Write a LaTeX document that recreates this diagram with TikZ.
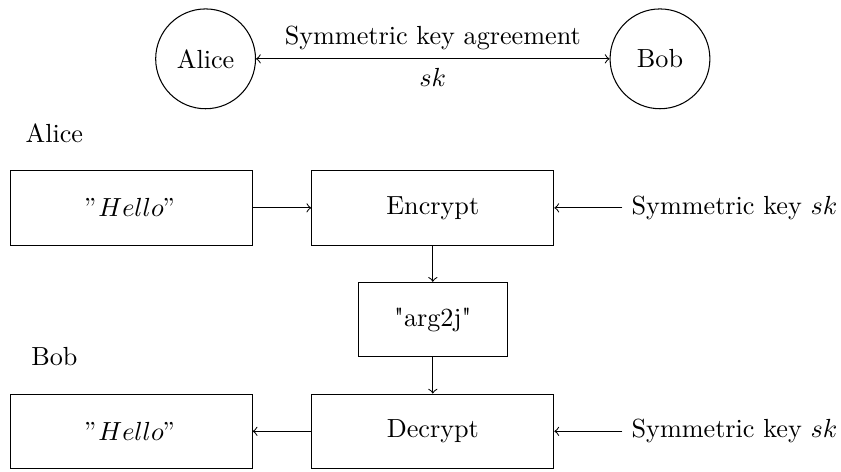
\documentclass[tikz,border=0pt]{standalone}
\usepackage{amsmath}

\begin{document}
\begin{tikzpicture}
	\tikzstyle{party} = [circle, draw, minimum size=1.34cm]
	\tikzstyle{block} = [rectangle, draw, minimum width=3.25cm, minimum height=1cm]
	\tikzstyle{cipher} = [rectangle, draw, minimum width=2cm, minimum height=1cm]
	\tikzstyle{edge} = [->]
	\def\keyx{4.05}
	\def\labelx{-5.08}

	\useasboundingbox (-5.81,-3.54) rectangle (5.48,2.79);

	%key agreement
	\foreach \name/\x in {Alice/-3.05, Bob/3.05}
		\node[party] (\name) at (\x, 2) {\name};
	\draw[<->] (Alice) -- node[above] {Symmetric key agreement} node[below] {$sk$} (Bob);

	%Alice encrypts
	\node (alice_label) at (\labelx, 1) {Alice};
	\node[block] (msg_in) at (-\keyx, 0) {$"Hello"$};
	\node[block] (enc) at (0, 0) {Encrypt};
	\node (key_enc) at (\keyx, 0) {Symmetric key $sk$};

	\node[cipher] (ct) at (0, -1.5) {\textquotedbl arg2j\textquotedbl};

	%Bob decrypts
	\node (bob_label) at (\labelx, -2) {Bob};
	\node[block] (msg_out) at (-\keyx, -3) {$"Hello"$};
	\node[block] (dec) at (0, -3) {Decrypt};
	\node (key_dec) at (\keyx, -3) {Symmetric key $sk$};

	\foreach \from/\to in {msg_in/enc, key_enc/enc, enc/ct, ct/dec, dec/msg_out, key_dec/dec}
		\draw[edge] (\from) -- (\to);
\end{tikzpicture}
\end{document}
